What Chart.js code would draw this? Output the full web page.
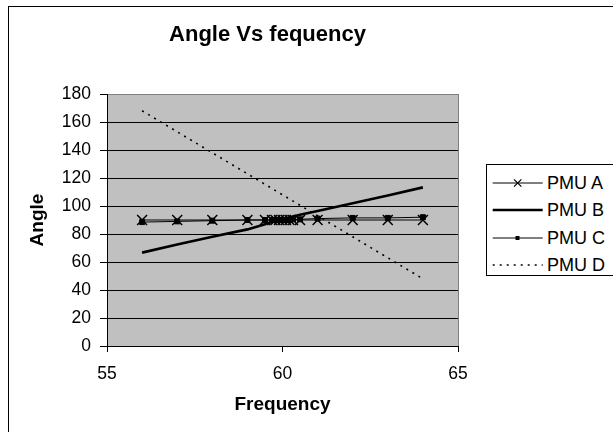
<!DOCTYPE html>
<html>
<head>
<meta charset="utf-8">
<script src="https://cdn.jsdelivr.net/npm/chart.js@4"></script>
<style>
html,body{margin:0;padding:0;background:#fff;overflow:hidden;width:613px;height:432px;position:relative;}
#frame{position:absolute;left:8px;top:6px;width:700px;height:500px;border:1px solid #000;box-sizing:border-box;}
#wrap{position:absolute;left:0;top:0;width:535px;height:432px;}
#legend{position:absolute;left:486px;top:164px;width:140px;height:112px;border:1px solid #000;box-sizing:border-box;background:#fff;font:18px "Liberation Sans",Arial,sans-serif;color:#000;}
.row{position:absolute;left:0;width:140px;height:20px;}
.row svg{position:absolute;left:5px;top:0;}
.row span{position:absolute;left:60px;top:0;line-height:20px;white-space:nowrap;}
</style>
</head>
<body>
<div id="frame"></div>
<div id="wrap"><canvas id="c" width="535" height="432"></canvas></div>
<div id="legend"></div>
<script>
// ---- data ----
const freq = [56, 57, 58, 59, 59.5, 59.7, 59.8, 59.9, 60, 60.1, 60.2, 60.3, 60.5, 61, 62, 63, 64];
const pmuA = [90, 90, 90, 90, 90, 90, 90, 90, 90, 90, 90, 90, 90, 90, 90, 90, 90];
const pmuB = [66.7, 72.5, 78, 83.3, 87, 88.5, 89.3, 90, 90.7, 91.3, 91.9, 92.5, 93.8, 96.5, 102, 107.5, 113.3];
const pmuC = [88.5, 89, 89.5, 90, 90, 90, 90, 90, 90, 90, 90, 90.5, 90.5, 91, 91.5, 91.5, 92];
const pmuD = [168, 153, 138, 123, 115.5, 112.5, 111, 109.5, 108, 106.5, 105, 103.5, 100.5, 93, 78, 63, 48];
const seriesNames = ['PMU A', 'PMU B', 'PMU C', 'PMU D'];
const xTicks = [55, 60, 65];
const yTicks = [0, 20, 40, 60, 80, 100, 120, 140, 160, 180];
const chartTitle = 'Angle Vs fequency';
const xTitle = 'Frequency';
const yTitle = 'Angle';

const FONT = '"Liberation Sans", Arial, sans-serif';
const toPts = ys => freq.map((x, i) => ({x: x, y: ys[i]}));

const plotBg = {
  id: 'plotBg',
  beforeDraw(chart) {
    const {ctx, chartArea: {left, top, right, bottom}} = chart;
    ctx.save();
    ctx.fillStyle = '#C0C0C0';
    ctx.fillRect(left, top, right - left, bottom - top);
    ctx.restore();
  },
  beforeDatasetsDraw(chart) {
    const {ctx, chartArea: {top, right, bottom}} = chart;
    ctx.save();
    ctx.strokeStyle = '#808080';
    ctx.lineWidth = 1;
    ctx.beginPath();
    ctx.moveTo(Math.round(right) + 0.5, top);
    ctx.lineTo(Math.round(right) + 0.5, bottom);
    ctx.stroke();
    ctx.restore();
  }
};

new Chart(document.getElementById('c'), {
  type: 'line',
  data: {
    datasets: [
      {label: seriesNames[0], data: toPts(pmuA), borderColor: '#000', borderWidth: 1,
       pointStyle: 'crossRot', pointRadius: 7, pointBorderColor: '#000', pointBorderWidth: 1.5, pointBackgroundColor: '#000'},
      {label: seriesNames[1], data: toPts(pmuB), borderColor: '#000', borderWidth: 2.6, pointRadius: 0},
      {label: seriesNames[2], data: toPts(pmuC), borderColor: '#000', borderWidth: 1,
       pointStyle: 'rect', pointRadius: 3.5, pointBorderColor: '#000', pointBackgroundColor: '#000', pointBorderWidth: 1},
      {label: seriesNames[3], data: toPts(pmuD), borderColor: '#000', borderWidth: 1.6, borderDash: [2, 5], pointRadius: 0}
    ]
  },
  options: {
    responsive: false,
    animation: false,
    devicePixelRatio: 1,
    layout: {padding: 0},
    plugins: {
      legend: {display: false},
      tooltip: {enabled: false},
      title: {
        display: true, text: chartTitle, color: '#000',
        font: {family: FONT, size: 22, weight: 'bold', lineHeight: 1.2},
        padding: {top: 21.5, bottom: 46.1}
      }
    },
    scales: {
      x: {
        type: 'linear', min: xTicks[0], max: xTicks[xTicks.length - 1],
        afterBuildTicks: s => { s.ticks = xTicks.map(v => ({value: v})); },
        afterFit: s => { s.height = 86; },
        border: {color: '#000', width: 1},
        grid: {drawOnChartArea: false, drawTicks: true, tickLength: 6, tickColor: '#000'},
        ticks: {color: '#000', font: {family: FONT, size: 17.5}, padding: 12, maxRotation: 0},
        title: {display: true, text: xTitle, color: '#000', font: {family: FONT, size: 19, weight: 'bold'}, padding: {top: 0, bottom: 16}}
      },
      y: {
        type: 'linear', min: yTicks[0], max: yTicks[yTicks.length - 1],
        afterBuildTicks: s => { s.ticks = yTicks.map(v => ({value: v})); },
        afterFit: s => { s.width = 107; },
        border: {color: '#000', width: 1},
        grid: {color: c => (c.tick && c.tick.value === 180) ? '#808080' : '#000', lineWidth: 1,
               drawTicks: true, tickLength: 7, tickColor: '#000'},
        ticks: {color: '#000', font: {family: FONT, size: 17.5}, padding: 9},
        title: {display: true, text: yTitle, color: '#000', font: {family: FONT, size: 19, weight: 'bold'}, padding: {top: 26.5, bottom: 0}}
      },
      spacer: {
        type: 'linear', position: 'right', display: true,
        afterFit: s => { s.width = 77; },
        grid: {display: false, drawTicks: false},
        border: {display: false},
        ticks: {display: false},
        title: {display: false}
      }
    }
  },
  plugins: [plotBg]
});

// ---- HTML legend ----
const legendEl = document.getElementById('legend');
const rowCenters = [18.5, 46, 73.5, 101];
const samples = [
  '<line x1="0.7" y1="10" x2="50.7" y2="10" stroke="#000" stroke-width="1"/><path d="M22 6.3 L29.4 13.7 M22 13.7 L29.4 6.3" stroke="#000" stroke-width="1.2"/>',
  '<line x1="0.7" y1="10" x2="50.7" y2="10" stroke="#000" stroke-width="2.6"/>',
  '<line x1="0.7" y1="10" x2="50.7" y2="10" stroke="#000" stroke-width="1"/><rect x="23.5" y="8" width="4" height="4" fill="#000"/>',
  '<line x1="0.7" y1="10" x2="50.7" y2="10" stroke="#000" stroke-width="1.6" stroke-dasharray="2,5"/>'
];
seriesNames.forEach((name, i) => {
  const row = document.createElement('div');
  row.className = 'row';
  row.style.top = (rowCenters[i] - 10 - 1) + 'px';
  row.innerHTML = '<svg width="52" height="20">' + samples[i] + '</svg><span></span>';
  row.querySelector('span').textContent = name;
  legendEl.appendChild(row);
});
</script>
</body>
</html>
